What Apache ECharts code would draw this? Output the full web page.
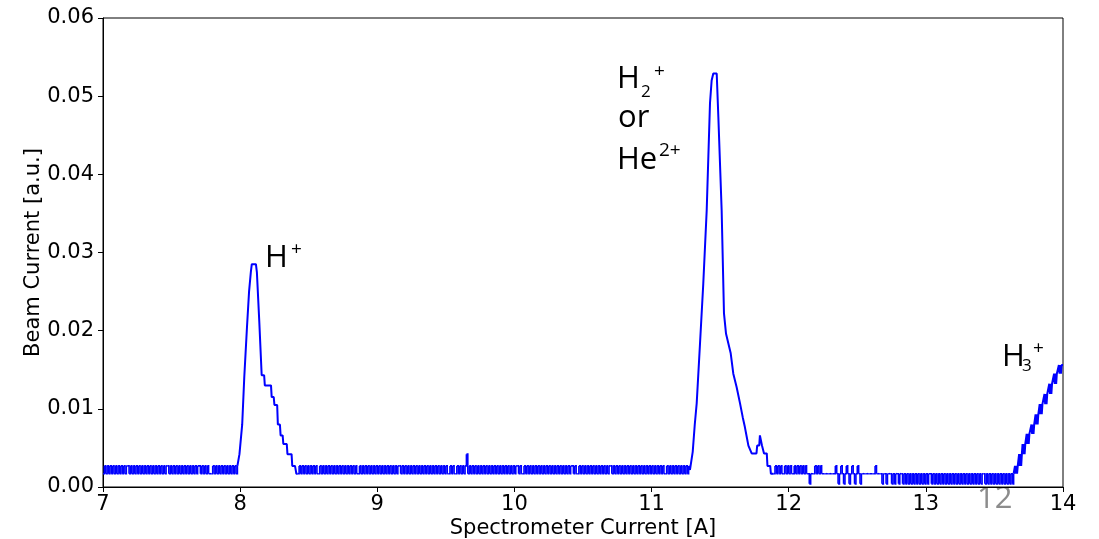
<!DOCTYPE html>
<html>
<head>
<meta charset="utf-8">
<script src="https://cdn.jsdelivr.net/npm/echarts@6/dist/echarts.min.js"></script>
<style>
  html, body { margin: 0; padding: 0; background: #fff; }
  #chart { width: 1099px; height: 539px; }
</style>
</head>
<body>
<div id="chart"></div>
<script>
// ---- Data ----
// Quantized baseline readings (a.u.) referenced by the noise code strings
const LEVELS = [0.0004, 0.0017, 0.0027, 0.0042];
const NOISE_STEP = 0.01;
// Start (A) of each baseline stretch
const noiseStarts = [7.00, 8.42, 11.89, 12.88];
// One digit per sample: index into LEVELS
const noiseCodes = [
  "1212121212" + "1212121221" + "2121212121" + "2121212121" + "2121212212" +
  "1212121212" + "1212121212" + "2121212111" + "2121212121" + "212121212",
  "1212121212" + "1212112121" + "2121212121" + "2121212121" + "2121121212" +
  "1212121212" + "1212121212" + "1212212121" + "2121212121" + "2121212121" +
  "2121212121" + "1212112121" + "2123121212" + "1212121212" + "1212121212" +
  "1212121212" + "2121121212" + "1212121212" + "1212121212" + "1212121212" +
  "2121121212" + "1212121212" + "1212121221" + "2121212121" + "2121212121" +
  "2121212121" + "2121212112" + "1212121212" + "121212",
  "1212121121212112121212121" + "10111" + "2121211111" + "1111121012" +
  "1012101210" + "1210111111" + "1111211110" + "1101110101" + "101101010",
  "1010101010" + "1010110101" + "0101010101" + "0101010101" + "0101010101" +
  "0101101010" + "1010101010" + "1010101"
];

// H+ peak  [A, a.u.]
const peakH1 = [
  [7.99,0.0027],[7.995,0.0042],[8.0,0.0042],[8.015,0.0080],[8.03,0.0140],[8.05,0.0205],
  [8.065,0.0250],[8.078,0.0275],[8.085,0.0285],[8.115,0.0285],[8.122,0.0275],[8.14,0.0210],
  [8.157,0.0143],[8.175,0.0143],[8.18,0.0130],[8.225,0.0130],[8.23,0.0115],[8.245,0.0115],
  [8.25,0.0105],[8.27,0.0105],[8.275,0.0080],[8.29,0.0080],[8.295,0.0066],[8.31,0.0066],
  [8.315,0.0055],[8.34,0.0055],[8.345,0.0042],[8.375,0.0042],[8.38,0.0027],[8.40,0.0027],
  [8.41,0.0017]
];

// H2+ / He2+ peak
const peakH2 = [
  [11.28,0.0022],[11.30,0.0045],[11.315,0.0080],[11.329,0.0107],[11.353,0.0183],
  [11.377,0.0260],[11.402,0.0354],[11.426,0.0491],[11.438,0.0520],[11.45,0.0529],
  [11.475,0.0529],[11.487,0.0473],[11.511,0.0354],[11.528,0.0222],[11.543,0.0196],
  [11.577,0.0171],[11.596,0.0145],[11.62,0.0128],[11.645,0.0107],[11.665,0.0089],
  [11.68,0.0077],[11.694,0.0064],[11.706,0.0053],[11.73,0.0043],[11.765,0.0043],
  [11.77,0.0053],[11.785,0.0053],[11.79,0.0066],[11.80,0.0066],[11.805,0.0053],
  [11.815,0.0053],[11.82,0.0043],[11.84,0.0043],[11.845,0.0027],[11.865,0.0027],
  [11.87,0.0017],[11.88,0.0017]
];

// H3+ rising edge
const riseH3 = [
  [13.65,0.0027],[13.655,0.0017],[13.66,0.0027],[13.665,0.0017],[13.67,0.0027],[13.675,0.0027],
  [13.68,0.0042],[13.685,0.0027],[13.69,0.0042],[13.695,0.0027],[13.70,0.0042],[13.705,0.0055],
  [13.71,0.0042],[13.715,0.0055],[13.72,0.0042],[13.725,0.0055],[13.73,0.0055],[13.735,0.0068],
  [13.74,0.0055],[13.745,0.0068],[13.75,0.0055],[13.755,0.0068],[13.765,0.0068],[13.77,0.0080],
  [13.775,0.0068],[13.78,0.0080],[13.785,0.0068],[13.79,0.0080],[13.795,0.0080],[13.80,0.0093],
  [13.805,0.0080],[13.81,0.0093],[13.815,0.0080],[13.82,0.0093],[13.825,0.0093],[13.83,0.0106],
  [13.835,0.0093],[13.84,0.0106],[13.845,0.0093],[13.85,0.0106],[13.86,0.0106],[13.865,0.0119],
  [13.87,0.0106],[13.875,0.0119],[13.88,0.0106],[13.885,0.0119],[13.895,0.0119],[13.90,0.0132],
  [13.905,0.0119],[13.91,0.0132],[13.915,0.0119],[13.92,0.0132],[13.93,0.0132],[13.935,0.0145],
  [13.94,0.0132],[13.945,0.0145],[13.95,0.0132],[13.955,0.0145],[13.965,0.0145],[13.97,0.0156],
  [13.975,0.0145],[13.98,0.0156],[13.985,0.0145],[13.99,0.0156],[14.0,0.0156]
];

const xTicks = { min: 7, max: 14, interval: 1 };
const yTicks = { min: 0, max: 0.06, interval: 0.01 };

// ---- Assemble the trace ----
function noiseSegment(k) {
  const out = [];
  const s = noiseCodes[k];
  for (let i = 0; i < s.length; i++) {
    out.push([+(noiseStarts[k] + i * NOISE_STEP).toFixed(3), LEVELS[+s[i]]]);
  }
  return out;
}
const nA = noiseSegment(0), nB = noiseSegment(1), nC = noiseSegment(2), nD = noiseSegment(3);
const last = a => a[a.length - 1];
// peak pieces joined to neighbouring baseline samples
const peakPieces = [
  [last(nA)].concat(peakH1, [nB[0]]),
  [last(nB)].concat(peakH2, [nC[0]]),
  [last(nD)].concat(riseH3)
];
// baseline as sample-to-sample steps: [x, y, xNext, yNext]
const noisePieces = [nA, nB, nC.concat(nD)];
const noiseSteps = [];
noisePieces.forEach(p => {
  for (let i = 0; i < p.length - 1; i++) {
    noiseSteps.push([p[i][0], p[i][1], p[i + 1][0], p[i + 1][1]]);
  }
});

const BLUE = '#0000ff';
const series = [{
  type: 'custom',
  data: noiseSteps,
  clip: true,
  encode: { x: [0, 2], y: [1, 3] },
  renderItem: function (params, api) {
    const a = api.coord([api.value(0), api.value(1)]);
    const b = api.coord([api.value(2), api.value(1)]);
    const c = api.coord([api.value(2), api.value(3)]);
    return {
      type: 'polyline',
      shape: { points: [a, b, c] },
      style: { stroke: BLUE, lineWidth: 1.6, fill: null }
    };
  }
}];
peakPieces.forEach(d => series.push({
  type: 'line', data: d, showSymbol: false, symbol: 'none',
  lineStyle: { color: BLUE, width: 2 }, clip: true
}));

const AXIS_FONT = 'DejaVu Sans';
const NOTE_FONT = '"Open Sans"';
function txt(x, y, s, size, color) {
  return {
    type: 'text', x: x, y: y, silent: true,
    style: { text: s, fontFamily: NOTE_FONT, fontSize: size, fill: color || '#000',
             verticalAlign: 'middle', align: 'left' }
  };
}

const chart = echarts.init(document.getElementById('chart'), null, { renderer: 'canvas' });
chart.setOption({
  animation: false,
  backgroundColor: '#fff',
  grid: { left: 103, right: 36, top: 18, bottom: 52, show: true, containLabel: false,
          outerBoundsMode: 'none',
          borderColor: '#000', borderWidth: 1, backgroundColor: 'transparent' },
  xAxis: {
    type: 'value', min: xTicks.min, max: xTicks.max, interval: xTicks.interval,
    name: 'Spectrometer Current [A]', nameLocation: 'middle', nameGap: 31,
    nameMoveOverlap: false,
    nameTextStyle: { fontFamily: AXIS_FONT, fontSize: 21, color: '#000' },
    axisLine: { show: true, lineStyle: { color: '#000', width: 1 } },
    axisTick: { show: true, length: 5, lineStyle: { color: '#000' } },
    axisLabel: { fontFamily: AXIS_FONT, fontSize: 21, color: '#000', margin: 7 },
    splitLine: { show: false }
  },
  yAxis: {
    type: 'value', min: yTicks.min, max: yTicks.max, interval: yTicks.interval,
    name: 'Beam Current [a.u.]', nameLocation: 'middle', nameGap: 59,
    nameMoveOverlap: false,
    nameTextStyle: { fontFamily: AXIS_FONT, fontSize: 21, color: '#000' },
    axisLine: { show: true, lineStyle: { color: '#000', width: 1 } },
    axisTick: { show: true, length: 5, lineStyle: { color: '#000' } },
    axisLabel: { fontFamily: AXIS_FONT, fontSize: 21, color: '#000', margin: 9,
                 formatter: v => v.toFixed(2) },
    splitLine: { show: false }
  },
  series: series,
  graphic: [
    // H+
    txt(265, 258, 'H', 31), txt(291, 250, '+', 19),
    // H2+ or He2+
    txt(617, 79, 'H', 31), txt(641, 92, '2', 17), txt(654, 72, '+', 19),
    txt(618, 118, 'or', 31),
    txt(617, 160, 'He', 31), txt(659, 151, '2+', 19),
    // H3+
    txt(1002, 357, 'H', 31), txt(1022, 366, '3', 17), txt(1033, 349, '+', 19),
    // slide number
    txt(977, 499, '12', 31, '#8c8c8c')
  ]
});
</script>
</body>
</html>
